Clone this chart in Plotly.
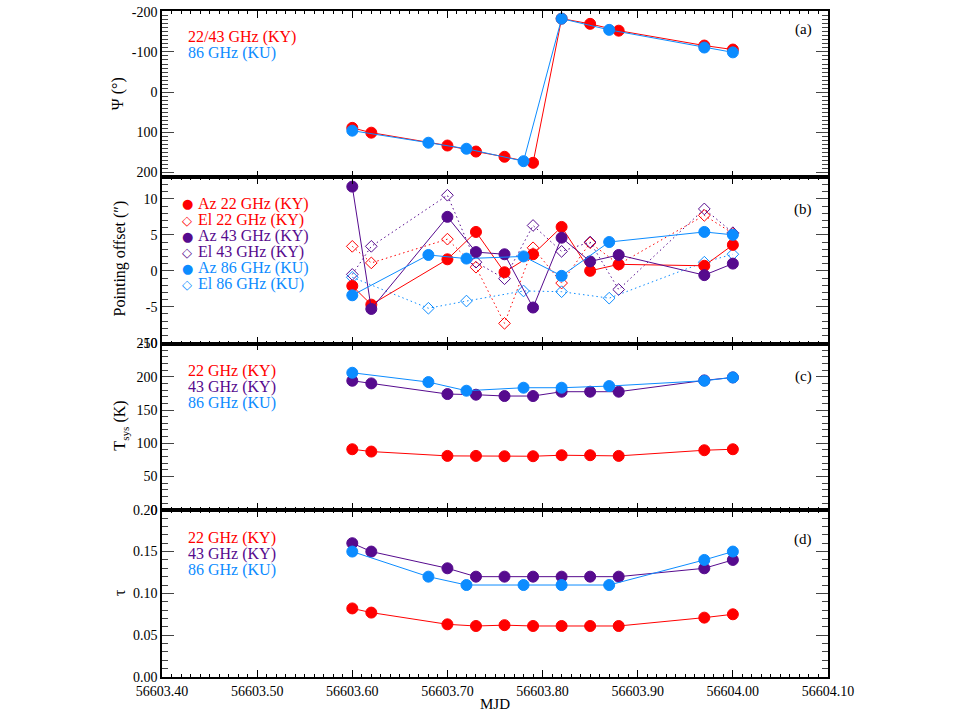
import plotly.graph_objects as go

# ---------------- data ----------------
t_ky = [56603.600, 56603.620, 56603.700, 56603.730, 56603.760, 56603.790,
        56603.820, 56603.850, 56603.880, 56603.970, 56604.000]
t_ku = [56603.600, 56603.680, 56603.720, 56603.780, 56603.820, 56603.870,
        56603.970, 56604.000]

psi_ky = [89, 101, 133, 148, 161, 176, -183, -170, -153, -116, -106]
psi_ku = [96, 126, 141, 172, -183, -155, -111, -99]

az22 = [-2.1, -4.7, 1.6, 5.4, -0.2, 2.3, 6.1, 0.0, 0.9, 0.7, 3.6]
el22 = [3.4, 1.1, 4.4, 0.5, -7.3, 3.2, -1.7, 3.9, 0.9, 7.7, 5.2]
az43 = [11.7, -5.3, 7.5, 2.6, 2.3, -5.1, 4.6, 1.3, 2.2, -0.6, 1.0]
el43 = [-0.5, 3.4, 10.5, 1.2, -1.1, 6.3, 2.7, 4.0, -2.6, 8.6, 5.3]
az86 = [-3.4, 2.2, 1.7, 2.0, -0.7, 4.0, 5.4, 5.0]
el86 = [-0.9, -5.2, -4.2, -2.8, -2.9, -3.8, 1.2, 2.3]

tsys22 = [91, 87.5, 81, 81, 80.5, 80.5, 82, 82, 81, 89.5, 91]
tsys43 = [194, 190, 174, 173, 171, 171, 177.5, 177.5, 177.5, 194.5, 199]
tsys86 = [206, 192, 179, 183.5, 183.5, 186, 194, 199]

tau22 = [0.082, 0.077, 0.063, 0.061, 0.062, 0.061, 0.061, 0.061, 0.061, 0.071, 0.075]
tau43 = [0.160, 0.150, 0.130, 0.120, 0.120, 0.120, 0.120, 0.120, 0.120, 0.130, 0.140]
tau86 = [0.150, 0.120, 0.110, 0.110, 0.110, 0.110, 0.140, 0.150]

x_ticks = [56603.40, 56603.50, 56603.60, 56603.70, 56603.80, 56603.90, 56604.00, 56604.10]
x_ticklabels = ["56603.40", "56603.50", "56603.60", "56603.70", "56603.80",
                "56603.90", "56604.00", "56604.10"]

# ---------------- style ----------------
RED = "#ff0000"
PURPLE = "#560b8e"
BLUE = "#0c8cff"
FONT = "Liberation Serif, Times New Roman, serif"

W, H = 960, 711
L, R, T, B = 162, 828, 4, 677  # plot area in pixels


def px(xp):
    return (xp - L) / (R - L)


def py(yp):
    return (B - yp) / (B - T)


fig = go.Figure()


def line_trace(x, y, color, axis, filled=True, dash="solid"):
    sym = "circle" if filled else "diamond-open"
    size = 11 if filled else 9
    fig.add_trace(go.Scatter(
        x=x, y=y, mode="lines+markers", xaxis=axis[0], yaxis=axis[1],
        line=dict(color=color, width=1, dash=dash),
        marker=dict(symbol=sym, size=size, color=color,
                    line=dict(color=color, width=1)),
        showlegend=False, hoverinfo="skip"))


DOT = "1.5px,3px"
# panel a
line_trace(t_ky, psi_ky, RED, ("x", "y"))
line_trace(t_ku, psi_ku, BLUE, ("x", "y"))
# panel b
line_trace(t_ky, el22, RED, ("x2", "y2"), filled=False, dash=DOT)
line_trace(t_ky, el43, PURPLE, ("x2", "y2"), filled=False, dash=DOT)
line_trace(t_ku, el86, BLUE, ("x2", "y2"), filled=False, dash=DOT)
line_trace(t_ky, az22, RED, ("x2", "y2"))
line_trace(t_ky, az43, PURPLE, ("x2", "y2"))
line_trace(t_ku, az86, BLUE, ("x2", "y2"))
# panel c
line_trace(t_ky, tsys22, RED, ("x3", "y3"))
line_trace(t_ky, tsys43, PURPLE, ("x3", "y3"))
line_trace(t_ku, tsys86, BLUE, ("x3", "y3"))
# panel d
line_trace(t_ky, tau22, RED, ("x4", "y4"))
line_trace(t_ky, tau43, PURPLE, ("x4", "y4"))
line_trace(t_ku, tau86, BLUE, ("x4", "y4"))

panel_px = [(4, 172), (172, 340), (340, 508), (508, 677)]
y_specs = [
    dict(range=[212, -202], tickvals=[-200, -100, 0, 100, 200],
         ticktext=["-200", "-100", "0", "100", "200"], minor=10),
    dict(range=[-10.1, 13], tickvals=[-10, -5, 0, 5, 10],
         ticktext=["-10", "-5", "0", "5", "10"], minor=1),
    dict(range=[0, 250], tickvals=[0, 50, 100, 150, 200, 250],
         ticktext=["0", "50", "100", "150", "200", "250"], minor=10),
    dict(range=[0, 0.2], tickvals=[0, 0.05, 0.10, 0.15, 0.20],
         ticktext=["0.00", "0.05", "0.10", "0.15", "0.20"], minor=0.01),
]

layout = dict(
    width=W, height=H,
    margin=dict(l=L, r=W - R, t=T, b=H - B, pad=0),
    paper_bgcolor="white", plot_bgcolor="rgba(0,0,0,0)",
    font=dict(family=FONT, size=14, color="black"),
    showlegend=False,
)

for i, (top, bot) in enumerate(panel_px):
    n = "" if i == 0 else str(i + 1)
    spec = y_specs[i]
    layout["xaxis" + n] = dict(
        domain=[0, 1], anchor="y" + n, range=[56603.40, 56604.10],
        tickvals=x_ticks, ticktext=x_ticklabels,
        showticklabels=(i == 3), ticks="inside", ticklen=7, tickwidth=1,
        tickcolor="black", showline=True, linecolor="black", linewidth=1.5,
        mirror="allticks", showgrid=False, zeroline=False,
        minor=dict(ticks="inside", dtick=0.01, ticklen=3, tickcolor="black",
                   showgrid=False),
        tickfont=dict(family=FONT, size=14),
    )
    if i > 0:
        layout["xaxis" + n]["matches"] = "x"
    layout["yaxis" + n] = dict(
        domain=[py(bot), py(top)], anchor="x" + n, range=spec["range"],
        tickvals=spec["tickvals"], ticktext=spec["ticktext"],
        ticks="inside", ticklen=12, tickwidth=1, tickcolor="#444",
        showline=True, linecolor="black", linewidth=1.5, mirror="allticks",
        showgrid=False, zeroline=False,
        minor=dict(ticks="inside", dtick=spec["minor"], ticklen=6,
                   tickcolor="#444", showgrid=False),
        tickfont=dict(family=FONT, size=14),
    )

fig.update_layout(**layout)

ann = []


def text(xp, yp, s, color="black", size=16, xanchor="left", angle=0, family=FONT):
    ann.append(dict(x=px(xp), y=py(yp), xref="paper", yref="paper", text=s,
                    showarrow=False, xanchor=xanchor, yanchor="middle",
                    textangle=angle, font=dict(family=family, size=size, color=color)))


# panel a legend
text(186, 30, "22/43 GHz (KY)", RED)
text(186, 46, "86 GHz (KU)", BLUE)
# panel b legend
rows_b = [("●", "Az 22 GHz (KY)", RED), ("◇", "El 22 GHz (KY)", RED),
          ("●", "Az 43 GHz (KY)", PURPLE), ("◇", "El 43 GHz (KY)", PURPLE),
          ("●", "Az 86 GHz (KU)", BLUE), ("◇", "El 86 GHz (KU)", BLUE)]
for k, (g, s, c) in enumerate(rows_b):
    yy = 199 + k * 16.2
    text(187, yy, g, c, size=13, xanchor="center", family="DejaVu Sans")
    text(196, yy, s, c)
# panel c legend
text(186, 368, "22 GHz (KY)", RED)
text(186, 384, "43 GHz (KY)", PURPLE)
text(186, 400, "86 GHz (KU)", BLUE)
# panel d legend
text(186, 537, "22 GHz (KY)", RED)
text(186, 553, "43 GHz (KY)", PURPLE)
text(186, 569, "86 GHz (KU)", BLUE)

# panel labels
text(803, 23, "(a)", size=15, xanchor="center")
text(803, 205, "(b)", size=15, xanchor="center")
text(803, 373, "(c)", size=15, xanchor="center")
text(803, 538, "(d)", size=15, xanchor="center")

# axis titles
text(118, 88, "Ψ (°)", angle=-90, xanchor="center")
text(120, 254, "Pointing offset (″)", angle=-90, xanchor="center")
text(121, 423, "T<sub>sys</sub> (K)", angle=-90, xanchor="center")
text(120, 592, "τ", angle=-90, xanchor="center")
text(495, 704, "MJD", xanchor="center", size=15)

fig.update_layout(annotations=ann)
fig.write_html(
    "out.html",
    config={"displayModeBar": False},
    post_script="document.body.style.margin='0';document.body.style.overflow='hidden';",
)
